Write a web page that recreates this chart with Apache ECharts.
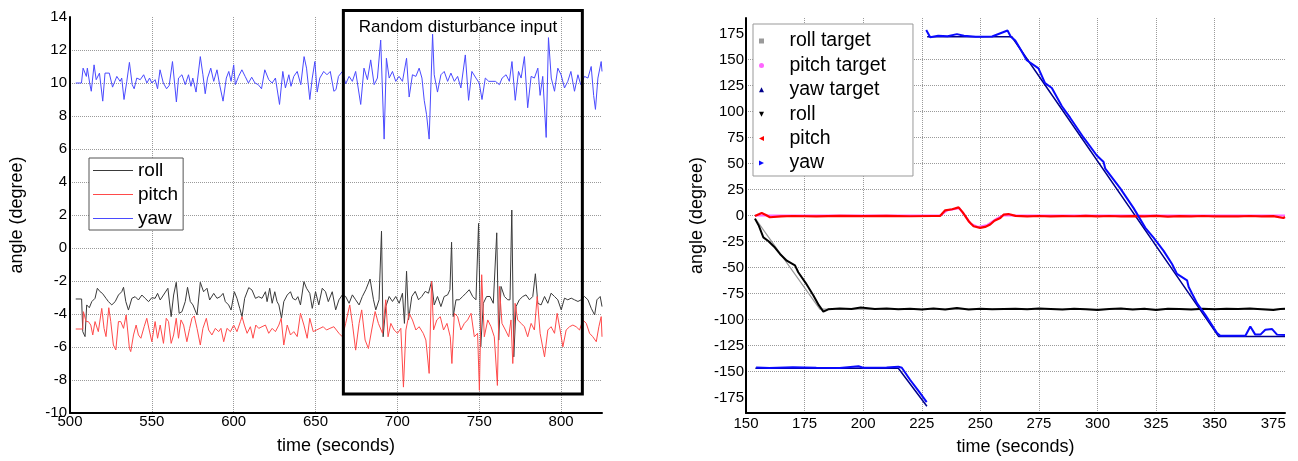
<!DOCTYPE html>
<html><head><meta charset="utf-8">
<script src="https://cdn.jsdelivr.net/npm/echarts@6/dist/echarts.min.js"></script>
<style>html,body{margin:0;padding:0;background:#fff}#c{width:1298px;height:461px}</style>
</head><body><div id="c"></div>
<script>
const FONT = '"Liberation Sans", Arial, sans-serif';

// ---------- Left chart data: [time (s), angle (deg)] ----------
const leftYaw = [[503.5,10.0],[507,10.0],[508,10.9],[510,10.4],[510.6,10.9],[512,10.0],[513,9.5],[514.7,11.1],[516,10.2],[518,10.6],[520,8.9],[521.4,10.6],[524,10.6],[526,9.75],[528.6,10.4],[530.6,10.1],[531.6,10.3],[533,9.0],[534.7,10.1],[536.3,11.25],[538,9.9],[539.2,9.65],[540.8,10.3],[542.9,10.2],[545,10.5],[547,10.0],[548.6,10.3],[550,10.0],[552,10.2],[553.5,9.65],[555,10.8],[557,10.0],[559,9.65],[560.6,9.85],[562.6,11.3],[565,8.85],[566.3,10.3],[568.4,10.5],[570.4,9.9],[572.4,10.5],[573.9,9.8],[575,10.3],[577,9.45],[579.6,11.6],[581.2,10.5],[582.6,9.35],[584,10.3],[586,10.9],[587.8,10.1],[589.8,10.8],[591.4,9.9],[593.5,8.9],[595.5,10.3],[597,10.7],[598.4,10.1],[600,11.1],[601,9.9],[603,10.4],[605,10.8],[607,10.4],[609,10.0],[611,10.35],[613,10.0],[615,9.9],[617,9.65],[619,10.8],[621.4,10.2],[623.5,10.0],[625.5,10.3],[628,8.7],[630,10.7],[631.6,9.7],[633.7,10.5],[635,9.8],[636.7,10.4],[638.8,10.7],[641,9.9],[643,11.6],[644.5,10.9],[646.5,9.0],[648,10.3],[649.6,11.3],[651,9.45],[652.6,10.3],[655,10.7],[657,10.5],[659,10.7],[661.2,9.5],[662.5,9.6],[664,10.4],[666.4,10.7],[668.4,9.95],[670.5,10.4],[672.5,10.1],[674.5,10.7],[677.6,8.7],[679.6,10.9],[681.7,10.2],[683.7,11.4],[685.8,9.9],[687.8,10.3],[689.8,12.6],[691.9,6.6],[693.3,11.5],[695,10.3],[697,10.7],[699,10.1],[701,10.4],[703.1,10.1],[705.6,11.5],[707.2,9.15],[709.2,10.5],[711.3,10.4],[713.3,10.9],[715,10.3],[716.4,8.95],[717.8,8.1],[719.4,6.6],[721.5,12.96],[722.5,10.5],[724.5,9.45],[726.6,10.5],[728.6,10.7],[730.7,10.1],[732.7,10.6],[734.8,10.1],[736.8,10.4],[738.8,9.7],[741.5,11.7],[743.5,8.95],[745.5,10.7],[748,10.3],[750,10.0],[751.7,9.0],[753.7,10.3],[755.8,10.1],[757.8,10.1],[759.9,10.1],[762.3,9.9],[764,10.3],[766.4,10.5],[768.4,10.1],[770,11.3],[772,8.95],[774,10.7],[775.6,10.3],[777.6,11.6],[779.6,8.5],[781.7,10.4],[783.7,10.3],[785.8,10.9],[787.2,9.25],[788.8,10.4],[790.9,6.7],[792.3,12.75],[794,10.3],[796,9.5],[798,10.9],[800,10.5],[802.1,9.7],[804.1,10.1],[806,10.7],[808.2,9.5],[810.3,10.5],[812,9.9],[814.3,10.4],[816.4,10.3],[818.4,11.0],[819.9,9.25],[821,8.4],[822.5,10.3],[824.5,11.3],[825,10.7]];

const leftRoll = [[503.5,-3.09],[507.1,-3.09],[507.8,-5.07],[509.2,-5.37],[510.2,-3.45],[511.8,-3.62],[513.3,-3.25],[515.3,-3.05],[516.7,-2.44],[518.4,-2.65],[519.8,-2.75],[521,-2.85],[522,-3.05],[523.5,-3.25],[525.5,-3.45],[527.6,-3.25],[529.6,-2.85],[531.6,-2.65],[532.7,-2.38],[534.1,-3.25],[535.7,-3.76],[537.8,-3.05],[539.8,-2.95],[541.8,-3.15],[543.9,-2.85],[545.9,-3.05],[548,-3.25],[550,-3.01],[552,-3.05],[553.5,-2.75],[555.1,-3.15],[557.1,-2.85],[559.8,-2.44],[561.8,-4.16],[563.3,-2.85],[564.9,-2.08],[566.7,-3.96],[568.4,-3.86],[570.4,-3.25],[571.8,-2.38],[573.5,-3.25],[575.1,-3.45],[577.6,-4.06],[579.6,-2.08],[581.6,-2.65],[583.7,-2.44],[585.3,-3.15],[587.8,-2.75],[589.8,-3.05],[591.8,-2.95],[593.5,-2.75],[594.9,-3.25],[596.9,-3.45],[598.4,-3.76],[600.4,-2.65],[602,-3.05],[603.7,-3.66],[605.1,-4.16],[606.7,-3.05],[609.2,-2.4],[611.2,-2.55],[613.3,-3.05],[615.3,-2.95],[617.3,-3.05],[619.4,-2.65],[620.4,-3.25],[622,-2.44],[623.5,-3.35],[625.1,-2.65],[626.5,-3.25],[627.6,-3.45],[629.2,-4.26],[630.6,-3.25],[632.7,-2.85],[634.7,-2.65],[636.1,-3.05],[637.8,-3.15],[639.2,-2.95],[640.8,-3.45],[642.9,-2.04],[644.5,-2.44],[646.5,-2.75],[648,-3.66],[650,-2.65],[652,-3.45],[654.1,-2.44],[656.1,-2.65],[657.8,-3.25],[660.2,-2.65],[662.3,-3.75],[664.3,-3.14],[666.4,-2.84],[668.4,-2.94],[670.5,-3.35],[672.5,-2.84],[674.5,-3.14],[676.6,-3.45],[678.6,-2.94],[680.7,-2.53],[683.3,-1.88],[685.4,-3.14],[686.8,-3.75],[688.8,-3.14],[690.3,1.02],[691.3,-5.38],[692.9,-3.55],[695,-2.94],[697,-3.24],[699,-2.94],[701.1,-3.35],[703.1,-2.74],[704.3,-4.57],[705.6,-1.41],[706.8,-4.36],[708.8,-2.94],[710.9,-2.63],[712.9,-3.14],[714.9,-2.94],[717,-2.63],[719,-2.74],[720.9,-2.02],[722.5,-3.45],[724.5,-2.94],[726.6,-3.55],[728.6,-2.94],[730.7,-2.84],[732.1,-2.53],[733.1,0.35],[734.1,-4.16],[735.8,-3.14],[737.8,-3.14],[739.9,-2.94],[741.9,-2.74],[743.9,-2.53],[746,-2.94],[748,-3.14],[749.6,1.49],[750.9,-5.99],[752.5,-3.35],[754.5,-2.94],[756.6,-2.94],[758.6,-3.35],[760.7,0.92],[761.9,-5.58],[763.3,-2.33],[765.4,-2.94],[767.4,-3.14],[768.8,-3.14],[769.9,2.3],[771.1,-6.6],[772.5,-3.55],[774.5,-3.14],[776.6,-2.94],[778.6,-2.84],[780.7,-3.14],[782.7,-2.94],[784.3,-1.56],[785.8,-3.35],[787.8,-3.45],[789.9,-2.94],[791.9,-3.35],[793.9,-2.74],[796,-2.94],[798,-3.14],[800.1,-3.75],[802.1,-3.04],[804.1,-3.14],[806.2,-3.04],[808.2,-3.14],[810.3,-3.24],[812.3,-3.14],[814.3,-2.94],[816.4,-3.14],[818.4,-3.65],[820.5,-4.06],[821.9,-3.14],[823.9,-2.94],[825,-3.55]];

const leftPitch = [[503.5,-4.91],[507.8,-4.91],[508.2,-3.86],[509.8,-4.46],[511.2,-4.46],[512.7,-4.67],[513.9,-5.27],[515.3,-4.46],[517.3,-5.07],[519.4,-3.66],[520.8,-4.87],[522,-5.37],[523.7,-3.62],[524.9,-4.46],[526.5,-5.88],[528,-6.18],[529.6,-4.46],[531,-4.46],[532.7,-4.87],[534.3,-4.06],[536.3,-6.08],[537.1,-6.28],[538.8,-5.27],[540.4,-4.67],[541.8,-5.27],[543.3,-5.47],[545.3,-4.77],[546.9,-4.26],[548.4,-4.97],[550,-5.68],[552,-4.46],[553.5,-5.47],[555.1,-4.67],[557.1,-5.78],[558.8,-4.26],[560.2,-4.46],[561.8,-5.78],[563.3,-5.27],[564.9,-4.26],[566.3,-5.47],[567.8,-4.36],[569.4,-4.67],[571.4,-5.68],[573.1,-4.87],[574.5,-4.26],[575.9,-4.12],[577.6,-4.87],[579.6,-5.88],[581.2,-4.87],[583.3,-4.26],[584.7,-4.97],[586.7,-5.27],[588.8,-4.87],[590.8,-5.07],[592.2,-4.87],[593.9,-5.68],[595.9,-4.87],[598,-5.07],[600,-4.67],[602,-5.07],[604.1,-4.46],[605.1,-4.16],[606.5,-4.67],[608.2,-5.17],[610.2,-4.77],[611.8,-5.47],[613.5,-4.67],[615.3,-4.87],[617.3,-4.77],[619.4,-4.67],[621.4,-5.17],[623.5,-4.87],[625.5,-5.07],[627.6,-4.67],[629,-4.26],[630.6,-5.88],[632.7,-4.67],[634.7,-5.27],[636.7,-5.07],[638.8,-5.37],[640.8,-3.96],[642.9,-4.67],[644.9,-5.47],[646.5,-4.26],[648.6,-5.07],[650.6,-4.97],[652.7,-4.87],[654.7,-4.77],[656.7,-4.97],[658.8,-4.87],[661.2,-4.77],[662.3,-4.77],[664.3,-5.17],[666.4,-5.38],[668.4,-4.57],[670.9,-3.45],[672.5,-4.57],[674.5,-6.19],[676.6,-4.57],[678.2,-3.75],[680.3,-5.58],[682.3,-6.09],[684.3,-4.97],[686.4,-3.85],[688.4,-4.57],[690.9,-5.17],[692.9,-3.14],[694.3,-5.38],[696,-4.57],[698,-4.97],[700.1,-5.17],[702.1,-4.87],[703.7,-8.43],[705.2,-4.97],[707.2,-3.96],[709.2,-4.36],[711.3,-4.97],[713.3,-4.77],[715.8,-5.17],[717.4,-5.58],[719.4,-7.6],[720.9,-2.02],[722.1,-4.97],[724.1,-4.36],[726.2,-4.16],[728.2,-4.97],[730.3,-4.57],[732.3,-5.38],[733.3,-7.0],[734.8,-3.96],[736.8,-4.16],[738.8,-4.97],[740.9,-4.57],[742.9,-4.36],[745,-3.96],[747,-5.38],[749,-5.17],[750.1,-8.63],[751.5,-1.62],[753.1,-5.38],[755.2,-4.36],[757.2,-4.77],[759.2,-5.38],[761.1,-8.33],[762.3,-2.33],[763.9,-4.57],[766,-4.97],[768,-5.38],[769.4,-4.36],[770.5,-7.0],[771.9,-3.35],[773.5,-4.36],[775.6,-4.57],[777.6,-4.77],[779.6,-5.38],[781.7,-4.57],[783.7,-4.97],[785.4,-2.94],[787.2,-5.17],[789.9,-6.6],[791.9,-4.97],[793.9,-4.77],[796,-5.17],[797.6,-3.96],[799.4,-4.97],[801.1,-5.99],[803.1,-4.97],[805.2,-4.77],[807.2,-4.67],[809.2,-4.77],[811.3,-4.97],[813.3,-4.36],[815.4,-4.57],[817.4,-5.17],[819.4,-5.38],[821.5,-5.68],[823.1,-4.77],[824.5,-4.16],[825,-5.38]];

// annotation box in data coordinates and its caption anchor
const disturbanceX = [667, 813];
const disturbanceY = [14.4, -8.85];
const disturbanceLabel = 'Random disturbance input';
const disturbanceLabelAt = [737, 13.35];

// ---------- Right chart data ----------
const rightXTicks = [150,175,200,225,250,275,300,325,350,375];
const rightYTicks = [-175,-150,-125,-100,-75,-50,-25,0,25,50,75,100,125,150,175];
const rollTarget = [[154,-3],[181.5,-90],[380,-90]];
const pitchTarget = [[154,0],[233,0],[236,5],[241,7],[246,-8],[249,-11],[253,-9],[257,-3],[259.5,0],[380,0]];
const yawTarget = [[154,-147],[215,-147],[227.2,-183.5],[227.3,'-'],[227.3,172],[263.4,172],[351.7,-116.5],[380,-116.5]];
const rollActual = [[153.8,-3],[155.5,-10],[157.4,-21],[159.5,-24.5],[162,-30],[164.5,-37],[167.4,-43.5],[170.9,-48],[172.3,-54.6],[175.5,-65],[178.7,-76.7],[181,-86],[183,-92.5],[185.1,-90.3],[190,-89.5],[195,-90],[199,-88.5],[205,-90],[210,-89.5],[215,-90.2],[220,-89.8],[225,-90.5],[230,-89.5],[235,-90.5],[240,-89],[245,-90.5],[250,-89.8],[255,-90.3],[260,-90],[265,-89.7],[270,-90.2],[275,-89.5],[280,-90],[285,-90.5],[290,-89.8],[295,-90.3],[300,-91],[305,-90],[310,-89.5],[315,-90.5],[320,-89.8],[325,-90.8],[330,-89.6],[335,-90],[340,-90.5],[345,-89.8],[350,-90.2],[355,-89.7],[360,-90],[365,-89.5],[370,-90.2],[375,-91],[378,-90],[380,-89.8]];
const pitchActual = [[153.8,-0.5],[156.7,2.4],[158.5,0.5],[160.2,-1.7],[165,-0.8],[170,-0.5],[180,-0.8],[190,-0.3],[200,-0.6],[210,-0.4],[220,-0.7],[230,-0.5],[232.8,-0.5],[235,5],[238,6],[240.7,7.8],[242.5,3],[245,-5.5],[247.1,-10.3],[249.9,-11.9],[252,-11],[254.2,-8.7],[256,-5],[258.5,-2.4],[259.9,0.8],[262,1.4],[265,-0.3],[270,-0.8],[275,-0.5],[280,-0.9],[285,-0.6],[290,-0.7],[295,-0.4],[300,-0.8],[305,-0.5],[310,-0.9],[315,-0.6],[320,-0.8],[325,-0.4],[330,-1.0],[335,-0.6],[340,-0.8],[345,-0.5],[350,-0.9],[355,-0.7],[360,-0.8],[365,-0.5],[370,-0.8],[375,-0.6],[379.3,-2.4],[380,-1.5]];
const yawActual = [[154.3,-146.3],[160,-146.8],[170,-146],[180,-146.5],[190,-146.8],[198,-145],[200,-146.5],[210,-146.2],[215,-145.4],[216.5,-146.5],[220,-158],[224,-170],[227.1,-179.5],[227.2,'-'],[226.9,178.5],[228.6,171.5],[232,173],[236,172.5],[240,174.5],[243,173],[248,172],[255,172.2],[261.6,178],[263,172],[264.9,168.4],[267,160.5],[269.8,149.4],[272,146],[274.8,141.5],[277.6,127.3],[280.5,122.6],[284.8,105.1],[288.3,94.1],[294,75.1],[299.7,57.7],[302.6,51.4],[303.3,45],[309.7,26.1],[315.4,7.1],[320.4,-11.9],[323.9,-21.3],[328.2,-34],[331.8,-46.7],[333.9,-56.2],[338.2,-62.4],[338.9,-68.8],[342.5,-84.6],[346,-95.6],[351,-113.1],[352.4,-115.6],[363.1,-115.6],[365.2,-106.7],[367.3,-114.6],[369.5,-114.6],[371.6,-109.9],[374.5,-109.3],[376.6,-114.6],[380,-115]];

const chart = echarts.init(document.getElementById('c'), null, {renderer: 'canvas'});

const axisCommon = {
  axisLine: {onZero: false, lineStyle: {color: '#000', width: 2}},
  axisTick: {show: false},
  axisLabel: {fontSize: 15, color: '#000', fontFamily: FONT},
  splitLine: {show: true, showMaxLine: false, lineStyle: {type: 'dotted', color: '#9a9a9a', width: 1}},
  nameTextStyle: {fontSize: 18, color: '#000', fontFamily: FONT},
  nameLocation: 'middle'
};
function ax(extra) { return echarts.util.merge(echarts.util.clone(axisCommon), extra, true); }

function line(name, data, color, width, xi) {
  return {type: 'line', name: name, data: data, xAxisIndex: xi, yAxisIndex: xi,
    showSymbol: false, symbol: 'none', animation: false, silent: true,
    lineStyle: {color: color, width: width}, itemStyle: {color: color}};
}

const P = {
  sq: 'path://M0,0H10V10H0Z',
  circ: 'path://M5,0A5,5,0,1,1,5,10A5,5,0,1,1,5,0Z',
  up: 'path://M5,0L10,10H0Z',
  down: 'path://M0,0H10L5,10Z',
  left: 'path://M10,0V10L0,5Z',
  right: 'path://M0,0L10,5L0,10Z',
  bar: 'path://M0,0H40V1.2H0Z'
};

chart.setOption({
  animation: false,
  backgroundColor: '#fff',
  textStyle: {fontFamily: FONT},
  grid: [
    {left: 70, top: 17, width: 532, height: 396},
    {left: 746, top: 18, width: 539, height: 399}
  ],
  xAxis: [
    ax({type: 'value', gridIndex: 0, min: 500, max: 825, interval: 50, name: 'time (seconds)', nameGap: 24,
        axisLabel: {margin: 1, showMaxLabel: false}}),
    ax({type: 'value', gridIndex: 1, min: 150, max: 380, name: 'time (seconds)', nameGap: 25,
        axisLabel: {margin: 3, customValues: rightXTicks}, axisTick: {customValues: rightXTicks}})
  ],
  yAxis: [
    ax({type: 'value', gridIndex: 0, min: -10, max: 14, interval: 2, name: 'angle (degree)', nameGap: 44,
        axisLabel: {margin: 3}}),
    ax({type: 'value', gridIndex: 1, min: -190, max: 190, name: 'angle (degree)', nameGap: 40,
        axisLabel: {margin: 2, customValues: rightYTicks}, axisTick: {customValues: rightYTicks},
        splitLine: {showMinLine: false}})
  ],
  legend: [
    {orient: 'vertical', left: 89, top: 158, itemWidth: 40, itemHeight: 14, itemGap: 5,
     padding: [3, 5, 2, 4], borderColor: '#555', borderWidth: 1, backgroundColor: '#fff',
     symbolKeepAspect: true, selectedMode: false,
     textStyle: {fontSize: 19, color: '#000', fontFamily: FONT},
     data: [{name: 'roll', icon: P.bar}, {name: 'pitch', icon: P.bar}, {name: 'yaw', icon: P.bar}]},
    {orient: 'vertical', left: 753, top: 24, itemWidth: 46, itemHeight: 5, itemGap: 4.4,
     padding: [7, 27, 3, 6], borderColor: '#999', borderWidth: 1, backgroundColor: '#fff',
     symbolKeepAspect: true, selectedMode: false,
     formatter: function (n) { return n.replace(' (R)', ''); },
     textStyle: {fontSize: 19.5, color: '#000', fontFamily: FONT},
     data: [{name: 'roll target', icon: P.sq}, {name: 'pitch target', icon: P.circ},
            {name: 'yaw target', icon: P.up}, {name: 'roll (R)', icon: P.down},
            {name: 'pitch (R)', icon: P.left}, {name: 'yaw (R)', icon: P.right}]}
  ],
  series: [
    line('roll', leftRoll, '#3a3a3a', 1, 0),
    line('pitch', leftPitch, '#ff4a4a', 1, 0),
    line('yaw', leftYaw, '#4a4aff', 1, 0),
    line('roll target', rollTarget, '#9a9a9a', 1.2, 1),
    line('pitch target', pitchTarget, '#ff66ff', 2, 1),
    line('yaw target', yawTarget, '#00008b', 1.5, 1),
    line('roll (R)', rollActual, '#000000', 2, 1),
    line('pitch (R)', pitchActual, '#ff0000', 2.2, 1),
    line('yaw (R)', yawActual, '#0a0aff', 2, 1)
  ]
});

// annotation rectangle placed through the axis scales
const pA = chart.convertToPixel({xAxisIndex: 0, yAxisIndex: 0}, [disturbanceX[0], disturbanceY[0]]);
const pB = chart.convertToPixel({xAxisIndex: 0, yAxisIndex: 0}, [disturbanceX[1], disturbanceY[1]]);
const pT = chart.convertToPixel({xAxisIndex: 0, yAxisIndex: 0}, disturbanceLabelAt);
chart.setOption({
  graphic: [
    {type: 'rect', z: 100, silent: true,
     shape: {x: pA[0], y: pA[1], width: pB[0] - pA[0], height: pB[1] - pA[1]},
     style: {fill: 'none', stroke: '#000', lineWidth: 3}},
    {type: 'text', z: 101, silent: true, x: pT[0], y: pT[1],
     style: {text: disturbanceLabel, fill: '#000', font: '17px ' + FONT, align: 'center', verticalAlign: 'middle'}}
  ]
});
</script>
</body></html>
